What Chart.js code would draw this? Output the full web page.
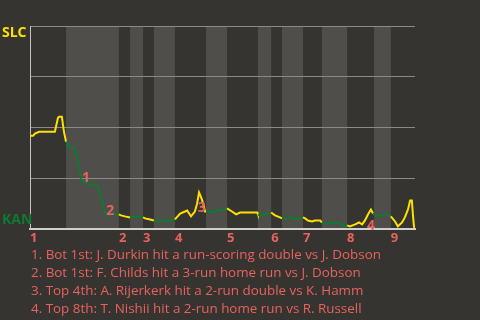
<!DOCTYPE html>
<html>
<head>
<meta charset="utf-8">
<script src="https://cdn.jsdelivr.net/npm/chart.js@4"></script>
<style>
  html,body{margin:0;padding:0;background:#353430;}
  body{width:480px;height:320px;overflow:hidden;font-family:"Open Sans",sans-serif;}
  #wrap{position:relative;width:480px;height:247px;}
  #plays{position:absolute;left:31px;top:245px;color:#e8625e;font-size:13.4px;line-height:18px;}
</style>
</head>
<body>
<div id="wrap"><canvas id="wp" width="480" height="247"></canvas></div>
<div id="plays"></div>
<script>
// SLC win probability (%) by plate appearance
const eventX = [0,0.9,1.4,2.6,7.1,8.0,8.3,9.1,9.7,10.3,10.6,11.1,12.6,13.4,14.6,15.4,16.3,18.0,19.4,21.1,22.0,23.7,25.4,
  26.0,27.1,28.6,30.0,31.4,32.3,32.9,34.3,35.4,36.9,38.6,40.0,41.4,42.9,44.3,44.9,46.0,47.1,47.7,48.3,48.9,49.4,50.0,50.3,
  50.9,52.0,53.4,55.1,56.3,57.7,58.9,60.0,61.4,64.9,65.1,65.7,67.1,68.9,70.0,71.4,72.0,73.4,74.3,75.7,78.0,78.6,79.4,80.6,
  81.4,82.9,83.4,84.3,85.7,87.1,88.6,90.0,90.6,91.4,92.9,94.0,94.9,95.7,96.6,97.4,98.0,98.6,99.4,101.4,102.6,103.1,104.3,
  105.1,106.3,107.1,108.0,108.6,109.1,109.4,109.7,110];
const slcWinPct = [46.1,46.1,47.1,48.0,48.0,54.9,55.4,55.4,48.0,43.1,42.2,40.2,40.2,35.8,24.5,23.5,22.5,21.6,21.6,9.8,6.9,7.4,7.4,
  6.9,6.4,5.9,6.4,6.4,5.9,5.4,4.9,4.4,3.9,4.4,4.4,4.9,7.8,8.8,9.3,6.4,8.8,12.3,18.1,15.7,13.2,8.8,8.8,
  8.8,8.3,9.3,9.8,10.3,8.8,7.4,8.3,8.3,8.3,7.4,6.9,7.4,8.3,6.9,5.9,5.4,5.4,5.9,4.9,5.9,5.4,4.4,3.9,
  4.4,4.4,3.4,2.9,2.9,3.4,2.9,1.5,2.0,1.5,2.5,3.4,2.5,4.4,7.4,9.8,7.8,6.9,6.4,7.4,6.9,6.4,3.9,
  1.5,3.4,5.9,9.8,14.2,14.2,7.4,1.5,0];

// half-inning starts (same x units)
const topStarts = [0,25.4,32.3,41.4,56.3,68.9,78.0,90.6,103.1];
const bottomStarts = [10.3,28.6,35.4,50.3,65.1,72.0,83.4,98.3];
const inningLabels = ['1','2','3','4','5','6','7','8','9'];
const lastEvent = 110;

// key plays
const keyX = [16.0,22.9,49.1,97.4];
const keyY = [25.5,8.8,10.3,1.5];
const keyLabels = ['1','2','3','4'];
const keyPlays = [
  '1. Bot 1st: J. Durkin hit a run-scoring double vs J. Dobson',
  '2. Bot 1st: F. Childs hit a 3-run home run vs J. Dobson',
  '3. Top 4th: A. Rijerkerk hit a 2-run double vs K. Hamm',
  '4. Top 8th: T. Nishii hit a 2-run home run vs R. Russell'
];

const BG = '#353430', BAND = '#4f4e4b', RED = '#e8625e';
const YELLOW = '#ffe000', GREEN = '#0e7a32';
const FONT = '"Open Sans", sans-serif';

function isBottom(x){
  let bot = false;
  for(let i=0;i<topStarts.length;i++){
    if(x >= topStarts[i]) bot = false;
    if(i < bottomStarts.length && x >= bottomStarts[i]) bot = true;
  }
  return bot;
}

const bands = {
  id:'bands',
  beforeDraw(chart){
    const {ctx, chartArea:a, scales:{x}} = chart;
    ctx.save();
    ctx.fillStyle = BG;
    ctx.fillRect(0,0,chart.width,chart.height);
    ctx.fillStyle = BAND;
    bottomStarts.forEach((s,i)=>{
      const e = i+1 < topStarts.length ? topStarts[i+1] : lastEvent;
      const x0 = x.getPixelForValue(s), x1 = x.getPixelForValue(e);
      ctx.fillRect(x0, a.top, x1-x0, a.bottom-a.top);
    });
    ctx.restore();
  }
};

const labels = {
  id:'labels',
  afterDatasetsDraw(chart){
    const {ctx, chartArea:a, scales:{x,y}} = chart;
    ctx.save();
    ctx.font = 'bold 14px ' + FONT;
    ctx.textBaseline = 'middle';
    ctx.textAlign = 'left';
    ctx.fillStyle = YELLOW;
    ctx.fillText('SLC', 2, a.top + 7);
    ctx.fillStyle = GREEN;
    ctx.fillText('KAN', 2, a.bottom - 9);
    ctx.textAlign = 'center';
    ctx.fillStyle = RED;
    ctx.font = 'bold 14px ' + FONT;
    keyX.forEach((v,i)=>{
      ctx.fillText(keyLabels[i], x.getPixelForValue(v), y.getPixelForValue(keyY[i]));
    });
    ctx.restore();
  }
};

new Chart(document.getElementById('wp'), {
  type:'line',
  data:{datasets:[{
    data: eventX.map((v,i)=>({x:v, y:slcWinPct[i]})),
    borderWidth:2,
    pointRadius:0,
    tension:0,
    borderColor:YELLOW,
    segment:{
      borderColor: c => isBottom((c.p0.parsed.x + c.p1.parsed.x)/2) ? GREEN : YELLOW
    }
  }]},
  options:{
    responsive:false,
    animation:false,
    devicePixelRatio:1,
    layout:{padding:{left:30,right:65,top:26,bottom:0}},
    plugins:{legend:{display:false},tooltip:{enabled:false}},
    scales:{
      x:{
        type:'linear', min:0, max:lastEvent,
        grid:{display:false, drawTicks:false},
        border:{display:true, color:'#cfcfcf', width:2},
        afterBuildTicks(axis){ axis.ticks = topStarts.map(v=>({value:v})); },
        ticks:{
          autoSkip:false, maxRotation:0, align:'start', padding:1,
          color:RED, font:{family:FONT, size:13, weight:'bold'},
          callback:(v,i)=>inningLabels[i]
        }
      },
      y:{
        min:0, max:100,
        ticks:{display:false, stepSize:25},
        grid:{color:'#8a8a88', drawTicks:false},
        border:{display:true, color:'#c4c4c4', width:1}
      }
    }
  },
  plugins:[bands, labels]
});

document.getElementById('plays').innerHTML = keyPlays.map(t=>'<div>'+t+'</div>').join('');
</script>
</body>
</html>
